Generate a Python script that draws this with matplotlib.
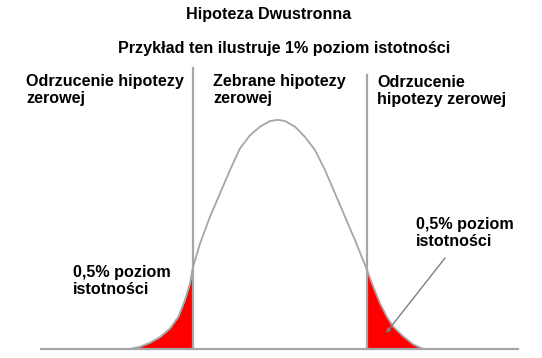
import matplotlib
matplotlib.use("Agg")
import matplotlib.pyplot as plt
import numpy as np

# Curve (z-like units, density-like heights)
curve_x = [-3.00, -2.80, -2.60, -2.40, -2.20, -2.03, -1.90, -1.80, -1.75,
           -1.60, -1.40, -1.20, -1.00, -0.80, -0.60, -0.40, -0.20, -0.04,
           0.10, 0.30, 0.50, 0.70, 0.90, 1.10, 1.30, 1.50, 1.734,
           1.866, 2.00, 2.134, 2.266, 2.466, 2.666, 2.866]
curve_y = [0.000, 0.004, 0.011, 0.021, 0.036, 0.057, 0.086, 0.115, 0.140,
           0.185, 0.232, 0.273, 0.314, 0.352, 0.375, 0.390, 0.400, 0.402,
           0.400, 0.390, 0.372, 0.349, 0.314, 0.273, 0.232, 0.191, 0.140,
           0.109, 0.080, 0.057, 0.039, 0.022, 0.008, 0.000]
crit_left = -1.75
crit_right = 1.734
base_x = [-4.78, 4.76]

title = "Hipoteza Dwustronna"
subtitle = "Przykład ten ilustruje 1% poziom istotności"
lbl_left = "Odrzucenie hipotezy\nzerowej"
lbl_mid = "Zebrane hipotezy\nzerowej"
lbl_right = "Odrzucenie\nhipotezy zerowej"
lbl_alpha = "0,5% poziom\nistotności"

plt.rcParams['font.family'] = ['Liberation Sans', 'DejaVu Sans']

W, H = 542, 358
fig = plt.figure(figsize=(W / 100, H / 100), dpi=100)
ax = fig.add_axes([0, 0, 1, 1])
# pixel mapping: x_px = 280 + 50*z ; y_px = 349 - 570*d
ax.set_xlim(-280 / 50, (W - 280) / 50)
ax.set_ylim(-(H - 349) / 570, 349 / 570)
ax.axis('off')

cx = np.array(curve_x)
cy = np.array(curve_y)
gray = '#a6a6a6'

ax.fill_between(cx, 0, cy, where=cx <= crit_left + 1e-9, color='#ff0000', lw=0, zorder=2)
ax.fill_between(cx, 0, cy, where=cx >= crit_right - 1e-9, color='#ff0000', lw=0, zorder=2)
ax.plot(cx, cy, color=gray, lw=1.3, zorder=3, solid_joinstyle='round')
ax.plot(base_x, [0, 0], color=gray, lw=1.6, zorder=4)
ax.plot([crit_left, crit_left], [0, (349 - 68) / 570], color=gray, lw=1.6, zorder=4)
ax.plot([crit_right, crit_right], [0, (349 - 75) / 570], color=gray, lw=1.6, zorder=4)

def fx(px):
    return px / W

def fy(py):
    return 1 - py / H

fs = 11.6
kw = dict(fontsize=fs, fontweight='bold', color='black', linespacing=1.15)
fig.text(fx(269), fy(15), title, ha='center', va='center', **kw)
fig.text(fx(284), fy(48), subtitle, ha='center', va='center', **kw)
fig.text(fx(26), fy(74), lbl_left, ha='left', va='top', **kw)
fig.text(fx(213), fy(74), lbl_mid, ha='left', va='top', **kw)
fig.text(fx(377), fy(75), lbl_right, ha='left', va='top', **kw)
fig.text(fx(73), fy(265), lbl_alpha, ha='left', va='top', **kw)
fig.text(fx(416), fy(217), lbl_alpha, ha='left', va='top', **kw)

ax.annotate('', xy=((386 - 280) / 50, (349 - 333) / 570),
            xytext=((445 - 280) / 50, (349 - 258) / 570),
            arrowprops=dict(arrowstyle='-|>', color='#7f7f7f', lw=1.0,
                            mutation_scale=6, shrinkA=0, shrinkB=0),
            zorder=5)

fig.savefig('out.png', dpi=100, facecolor='white')
